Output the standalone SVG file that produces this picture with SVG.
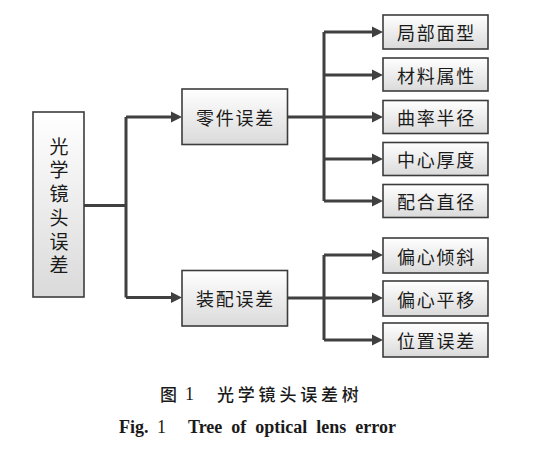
<svg xmlns="http://www.w3.org/2000/svg" width="541" height="455" viewBox="0 0 541 455">
<defs>
<linearGradient id="bg" x1="0" y1="0" x2="0" y2="1">
<stop offset="0" stop-color="#ffffff"/>
<stop offset="1" stop-color="#dadada"/>
</linearGradient>
<marker id="ah" markerUnits="userSpaceOnUse" markerWidth="12" markerHeight="12" refX="4" refY="6" orient="auto">
<path d="M0,0.5 L11,6 L0,11.5 Z" fill="#404040"/>
</marker>
</defs>
<style>
.box{fill:url(#bg);stroke:#3c3c3c;stroke-width:1.6}
.lbl{font-family:"Noto Sans CJK SC",sans-serif;font-size:18px;fill:#1a1a1a;text-anchor:middle;dominant-baseline:central;letter-spacing:1.7px}
.vl{font-family:"Noto Sans CJK SC",sans-serif;font-size:19px;fill:#1a1a1a;writing-mode:vertical-rl;letter-spacing:4.7px}
.conn{fill:none;stroke:#404040;stroke-width:3}
.arr{fill:none;stroke:#404040;stroke-width:3;marker-end:url(#ah)}
.capzh{font-family:"Noto Sans CJK SC",sans-serif;font-size:17px;font-weight:500;fill:#1a1a1a;dominant-baseline:central}
.capnum{font-family:"Liberation Serif",serif;font-size:18px;fill:#1a1a1a}
.capen{font-family:"Liberation Serif",serif;font-size:18px;font-weight:bold;fill:#1a1a1a}
</style>
<rect width="541" height="455" fill="#ffffff"/>
<g id="connectors">
<path class="conn" d="M84,205.5 H126 M126,117 V297.5"/>
<path class="arr" d="M126,117 H175"/>
<path class="arr" d="M126,297.5 H175"/>
<path class="conn" d="M288,117 H324 M324,32 V201"/>
<path class="arr" d="M324,32 H376"/>
<path class="arr" d="M324,75 H376"/>
<path class="arr" d="M324,117 H376"/>
<path class="arr" d="M324,159 H376"/>
<path class="arr" d="M324,201 H376"/>
<path class="conn" d="M288,298 H324 M324,255 V340"/>
<path class="arr" d="M324,255 H376"/>
<path class="arr" d="M324,298 H376"/>
<path class="arr" d="M324,340 H376"/>
</g>
<g id="root">
<rect class="box" x="33" y="112" width="51" height="185"/>
<text class="vl" x="59" y="137">光学镜头误差</text>
</g>
<g id="part-error">
<rect class="box" x="182" y="89" width="105.5" height="55.5"/>
<text class="lbl" x="235.5" y="116.5">零件误差</text>
</g>
<g id="assembly-error">
<rect class="box" x="182" y="270.5" width="105.5" height="55.5"/>
<text class="lbl" x="235.5" y="298">装配误差</text>
</g>
<g id="local-surface">
<rect class="box" x="383" y="15" width="105" height="34"/>
<text class="lbl" x="436.5" y="32">局部面型</text>
</g>
<g id="material">
<rect class="box" x="383" y="58" width="105" height="33"/>
<text class="lbl" x="436.5" y="74.5">材料属性</text>
</g>
<g id="curvature">
<rect class="box" x="383" y="100.5" width="105" height="33"/>
<text class="lbl" x="436.5" y="117">曲率半径</text>
</g>
<g id="thickness">
<rect class="box" x="383" y="142.5" width="105" height="33"/>
<text class="lbl" x="436.5" y="159">中心厚度</text>
</g>
<g id="fit-diameter">
<rect class="box" x="383" y="184.5" width="105" height="33"/>
<text class="lbl" x="436.5" y="201">配合直径</text>
</g>
<g id="tilt">
<rect class="box" x="383" y="238" width="105" height="35"/>
<text class="lbl" x="436.5" y="255.5">偏心倾斜</text>
</g>
<g id="shift">
<rect class="box" x="383" y="281" width="105" height="35"/>
<text class="lbl" x="436.5" y="298.5">偏心平移</text>
</g>
<g id="position">
<rect class="box" x="383" y="323" width="105" height="34"/>
<text class="lbl" x="436.5" y="340">位置误差</text>
</g>
<g id="caption">
<text class="capzh" x="160" y="393">图</text>
<text class="capnum" x="185" y="400">1</text>
<text class="capzh" x="217" y="393" letter-spacing="3.8">光学镜头误差树</text>
<text class="capen" x="119" y="433">Fig.</text>
<text class="capnum" x="157" y="433">1</text>
<text class="capen" x="188" y="433" word-spacing="4.5">Tree of optical lens error</text>
</g>
</svg>
